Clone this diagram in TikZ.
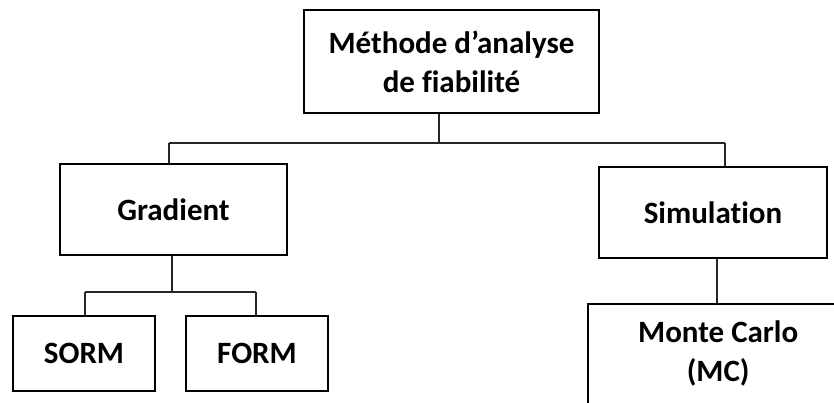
\documentclass[tikz,border=0pt]{standalone}
\usepackage{fontspec}
\setmainfont{Carlito}[Ligatures=NoCommon]
\usetikzlibrary{calc}
\begin{document}
\begin{tikzpicture}[x=1pt,y=-1pt,
  box/.style={draw=black, line width=2.4pt, rectangle, inner sep=0pt},
  txt/.style={font=\bfseries\fontsize{31}{39}\selectfont, align=center},
  conn/.style={draw=black!85, line width=1.1pt}]
\useasboundingbox (0,0) rectangle (834,403);
\clip (0,0) rectangle (834,403);
% boxes
\node[box, txt, minimum width=295pt, minimum height=103pt] (top) at (451.5,61.5) {Méthode d’analyse\\de fiabilité};
\node[box, txt, minimum width=227pt, minimum height=91pt] (grad) at (173.5,209.5) {Gradient};
\node[box, txt, minimum width=228pt, minimum height=91pt] (sim) at (713,212.5) {Simulation};
\node[box, txt, minimum width=142pt, minimum height=75pt] (sorm) at (84,353.5) {SORM};
\node[box, txt, minimum width=142pt, minimum height=75pt] (form) at (257,353.5) {FORM};
\node[box, minimum width=260pt, minimum height=140pt, anchor=north west] (mc) at (587,303) {};
\node[txt] (mctext) at ($(mc.north)+(0,50)$) {Monte Carlo\\(MC)};
% connectors
\coordinate (j1) at (439,143);
\coordinate (j2) at (172,292);
\draw[conn] (top.south -| j1) -- (j1);
\draw[conn] (169,143) -- (725,143);
\draw[conn] (169,143) -- (grad.north -| 169,0);
\draw[conn] (725,143) -- (sim.north -| 725,0);
\draw[conn] (grad.south -| j2) -- (j2);
\draw[conn] (85,292) -- (256,292);
\draw[conn] (85,292) -- (sorm.north -| 85,0);
\draw[conn] (256,292) -- (form.north -| 256,0);
\draw[conn] (sim.south -| 717,0) -- (mc.north -| 717,0);
\end{tikzpicture}
\end{document}
